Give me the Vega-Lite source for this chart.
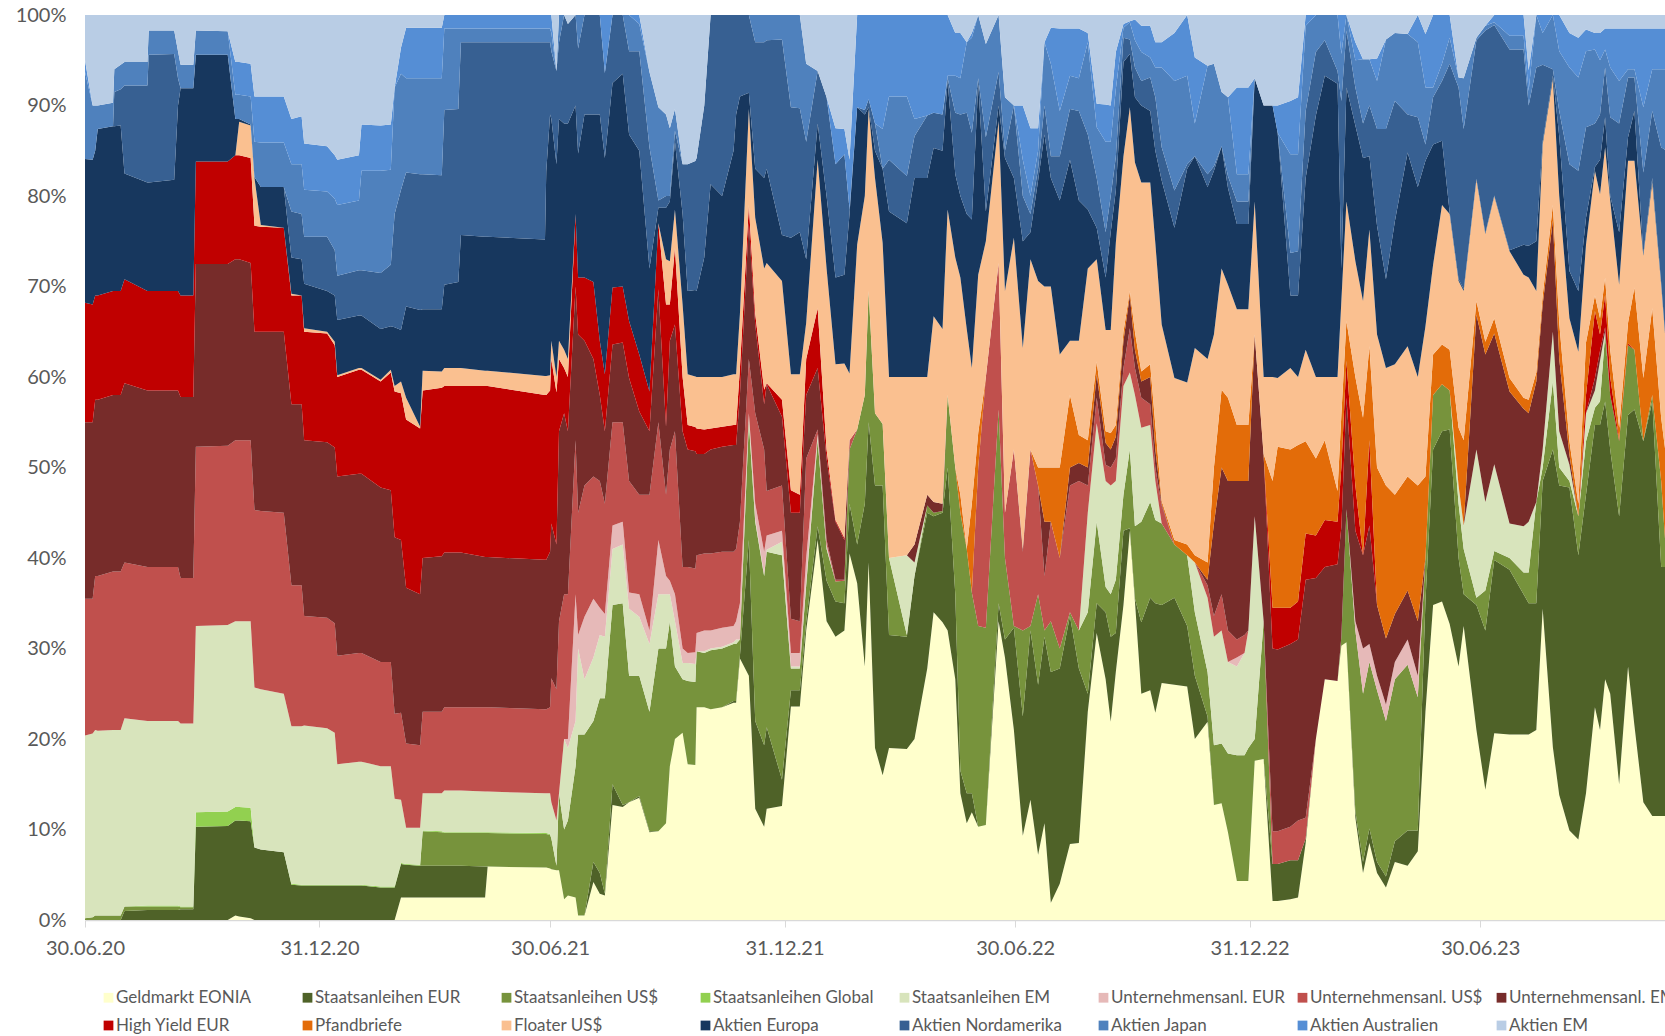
{"$schema":"https://vega.github.io/schema/vega-lite/v6.json","width":1580,"height":905,"autosize":{"type":"none"},"padding":{"left":85,"top":15,"right":0,"bottom":116},"background":"white","config":{"view":{"stroke":null},"font":"Lato"},
"data":{"values":[
{"date":"2020-06-30","a":0,"b":0,"c":0.2,"d":0,"e":20.2,"f":0,"g":15.1,"h":19.5,"i":13.2,"j":0,"k":0,"l":15.9,"m":0,"n":9.6,"o":1.3,"p":5},
{"date":"2020-07-06","a":0,"b":0,"c":0.3,"d":0,"e":20.3,"f":0,"g":14.9,"h":19.5,"i":13,"j":0,"k":0,"l":16,"m":0,"n":6,"o":0,"p":10},
{"date":"2020-07-08","a":0,"b":0,"c":0.5,"d":0,"e":20.5,"f":0,"g":17,"h":19.5,"i":11.5,"j":0,"k":0,"l":16,"m":0,"n":5,"o":0,"p":10},
{"date":"2020-07-10","a":0,"b":0,"c":0.5,"d":0,"e":20.4,"f":0,"g":17.1,"h":19.5,"i":11.5,"j":0,"k":0,"l":18.4,"m":0,"n":2.6,"o":0,"p":10},
{"date":"2020-07-22","a":0,"b":0,"c":0.5,"d":0,"e":20.5,"f":0,"g":17.5,"h":19.5,"i":11.5,"j":0,"k":0,"l":18.2,"m":0,"n":2.6,"o":0,"p":9.7},
{"date":"2020-07-23","a":0,"b":0,"c":0.5,"d":0,"e":20.5,"f":0,"g":17.5,"h":19.5,"i":11.5,"j":0,"k":0,"l":18.2,"m":3.8,"n":2.5,"o":0,"p":6},
{"date":"2020-07-28","a":0,"b":0,"c":0.5,"d":0,"e":20.5,"f":0,"g":17.5,"h":19.5,"i":11.5,"j":0,"k":0,"l":18.3,"m":4,"n":2.7,"o":0,"p":5.5},
{"date":"2020-07-31","a":0,"b":1,"c":0.5,"d":0,"e":20.8,"f":0,"g":17.2,"h":19.8,"i":11.5,"j":0,"k":0,"l":11.7,"m":9.7,"n":2.6,"o":0,"p":5.2},
{"date":"2020-08-18","a":0,"b":1.1,"c":0.4,"d":0.1,"e":20.4,"f":0,"g":17,"h":19.5,"i":11,"j":0,"k":0,"l":12,"m":10.7,"n":2.6,"o":0,"p":5.2},
{"date":"2020-08-19","a":0,"b":1.1,"c":0.4,"d":0.1,"e":20.4,"f":0,"g":17,"h":19.5,"i":11,"j":0,"k":0,"l":12,"m":14.1,"n":2.7,"o":0,"p":1.7},
{"date":"2020-09-08","a":0,"b":1.1,"c":0.4,"d":0.1,"e":20.4,"f":0,"g":17,"h":19.5,"i":11,"j":0,"k":0,"l":12.3,"m":13.9,"n":2.6,"o":0,"p":1.7},
{"date":"2020-09-11","a":0,"b":1.1,"c":0.4,"d":0.1,"e":20.4,"f":0,"g":17,"h":19.5,"i":11,"j":0,"k":0,"l":20.5,"m":3,"n":3,"o":0,"p":4},
{"date":"2020-09-13","a":0,"b":1.2,"c":0.2,"d":0.1,"e":20.2,"f":0,"g":16.1,"h":20,"i":11.2,"j":0,"k":0,"l":22.9,"m":0,"n":2.6,"o":0,"p":5.5},
{"date":"2020-09-23","a":0,"b":1.2,"c":0.2,"d":0.1,"e":20.2,"f":0,"g":16.1,"h":20,"i":11.2,"j":0,"k":0,"l":22.9,"m":0,"n":2.6,"o":0,"p":5.5},
{"date":"2020-09-25","a":0,"b":10.3,"c":0,"d":1.6,"e":20.6,"f":0,"g":19.8,"h":20.2,"i":11.3,"j":0,"k":0,"l":11.8,"m":0,"n":2.7,"o":0,"p":1.7},
{"date":"2020-10-20","a":0,"b":10.4,"c":0,"d":1.6,"e":20.6,"f":0,"g":19.8,"h":20.1,"i":11.3,"j":0,"k":0,"l":11.8,"m":0,"n":2.6,"o":0,"p":1.8},
{"date":"2020-10-26","a":0.5,"b":10.5,"c":0,"d":1.5,"e":20.5,"f":0,"g":20,"h":20,"i":11.5,"j":0,"k":0,"l":4,"m":0,"n":2.7,"o":3.6,"p":5.2},
{"date":"2020-10-29","a":0.4,"b":10.6,"c":0,"d":1.5,"e":20.5,"f":0,"g":20,"h":20,"i":11.5,"j":0,"k":3.7,"l":0.3,"m":0,"n":2.7,"o":3.6,"p":5.2},
{"date":"2020-11-07","a":0.2,"b":10.7,"c":0,"d":1.5,"e":20.6,"f":0,"g":20,"h":19.6,"i":11.6,"j":0,"k":3.6,"l":0.1,"m":0,"n":3.1,"o":3.6,"p":5.4},
{"date":"2020-11-10","a":0,"b":8,"c":0,"d":0,"e":17.7,"f":0,"g":19.6,"h":19.7,"i":11.7,"j":0,"k":5.3,"l":0.1,"m":0,"n":3.9,"o":5,"p":9},
{"date":"2020-11-15","a":0,"b":7.8,"c":0,"d":0,"e":17.7,"f":0,"g":19.7,"h":19.8,"i":11.6,"j":0,"k":0.2,"l":4.2,"m":0,"n":4.9,"o":5.1,"p":9},
{"date":"2020-12-03","a":0,"b":7.5,"c":0,"d":0,"e":17.5,"f":0,"g":20,"h":20,"i":11.5,"j":0,"k":0,"l":4.5,"m":0,"n":4.9,"o":5.1,"p":9},
{"date":"2020-12-09","a":0,"b":3.9,"c":0,"d":0.1,"e":17.4,"f":0,"g":15.6,"h":20,"i":12,"j":0,"k":0.2,"l":4,"m":5.1,"n":5.2,"o":5,"p":11.5},
{"date":"2020-12-17","a":0,"b":3.8,"c":0,"d":0.1,"e":17.5,"f":0,"g":15.6,"h":20,"i":12,"j":0,"k":0,"l":4,"m":5,"n":5.5,"o":5.3,"p":11.2},
{"date":"2020-12-19","a":0,"b":3.8,"c":0,"d":0.1,"e":17.6,"f":0,"g":12.1,"h":19.4,"i":12,"j":0,"k":0.4,"l":4.9,"m":5.2,"n":5.2,"o":5.1,"p":14.2},
{"date":"2021-01-06","a":0,"b":3.8,"c":0,"d":0.1,"e":17.3,"f":0,"g":12.2,"h":19.4,"i":12,"j":0,"k":0.2,"l":4.5,"m":6,"n":5,"o":5,"p":14.5},
{"date":"2021-01-12","a":0,"b":3.8,"c":0,"d":0.1,"e":16.8,"f":0,"g":12.1,"h":19.4,"i":11.3,"j":0,"k":0.4,"l":5.1,"m":5,"n":5.7,"o":4.8,"p":15.5},
{"date":"2021-01-14","a":0,"b":3.8,"c":0,"d":0.1,"e":13.3,"f":0,"g":12,"h":19.8,"i":11,"j":0,"k":0.2,"l":6.1,"m":4.9,"n":7.8,"o":5,"p":16},
{"date":"2021-01-31","a":0,"b":3.8,"c":0,"d":0.1,"e":13.6,"f":0,"g":12,"h":19.8,"i":11.5,"j":0,"k":0.2,"l":5.8,"m":5,"n":7.7,"o":5,"p":15.5},
{"date":"2021-02-02","a":0,"b":3.8,"c":0,"d":0.1,"e":13.6,"f":0,"g":12,"h":19.8,"i":11.5,"j":0,"k":0.2,"l":5.8,"m":5,"n":11,"o":5.1,"p":12.1},
{"date":"2021-02-17","a":0,"b":3.6,"c":0,"d":0.1,"e":13.3,"f":0,"g":11.5,"h":19.3,"i":11.7,"j":0,"k":0.2,"l":5.6,"m":6.2,"n":11.3,"o":5,"p":12.2},
{"date":"2021-02-25","a":0,"b":3.6,"c":0,"d":0.1,"e":13.3,"f":0,"g":11.5,"h":19,"i":13,"j":0,"k":0.3,"l":4.8,"m":6.8,"n":10.5,"o":5,"p":12.1},
{"date":"2021-02-28","a":0,"b":3.6,"c":0,"d":0.1,"e":9.7,"f":0,"g":9.4,"h":19.5,"i":16.1,"j":0,"k":0.6,"l":6.5,"m":12.5,"n":14,"o":0,"p":8},
{"date":"2021-03-05","a":2.5,"b":3.7,"c":0,"d":0.1,"e":7,"f":0,"g":9.6,"h":19.1,"i":16.2,"j":0,"k":1.3,"l":5.7,"m":15.5,"n":12.8,"o":2.9,"p":3.6},
{"date":"2021-03-09","a":2.5,"b":3.6,"c":0,"d":0.1,"e":4,"f":0,"g":9.3,"h":17.2,"i":18.6,"j":0,"k":2.4,"l":10.1,"m":14.8,"n":10.4,"o":5.6,"p":1.4},
{"date":"2021-03-20","a":2.5,"b":3.5,"c":0,"d":0.1,"e":4.1,"f":0,"g":9.1,"h":16.7,"i":18.3,"j":0,"k":0.2,"l":12.9,"m":15,"n":10.6,"o":5.6,"p":1.4},
{"date":"2021-03-22","a":2.5,"b":3.5,"c":3.8,"d":0.1,"e":4.1,"f":0,"g":9,"h":17,"i":18.5,"j":0,"k":2.2,"l":6.8,"m":14.9,"n":10.6,"o":5.6,"p":1.4},
{"date":"2021-04-06","a":2.5,"b":3.5,"c":3.7,"d":0.1,"e":4.2,"f":0,"g":9,"h":17.2,"i":18.6,"j":0,"k":1.8,"l":6.9,"m":14.8,"n":10.7,"o":5.6,"p":1.4},
{"date":"2021-04-08","a":2.5,"b":3.5,"c":3.6,"d":0.1,"e":4.6,"f":0,"g":9.2,"h":17.1,"i":18.4,"j":0,"k":2,"l":9.2,"m":19.3,"n":9,"o":1.5,"p":0},
{"date":"2021-04-19","a":2.5,"b":3.5,"c":3.6,"d":0.1,"e":4.6,"f":0,"g":9.2,"h":17.1,"i":18.4,"j":0,"k":2,"l":9.5,"m":19.1,"n":8.9,"o":1.5,"p":0},
{"date":"2021-04-21","a":2.5,"b":3.5,"c":3.6,"d":0.1,"e":4.6,"f":0,"g":9.2,"h":17.1,"i":18.4,"j":0,"k":2,"l":14.7,"m":21.3,"n":1.5,"o":1.5,"p":0},
{"date":"2021-05-10","a":2.5,"b":3.4,"c":3.7,"d":0.1,"e":4.5,"f":0,"g":9.3,"h":16.6,"i":18.9,"j":0,"k":1.7,"l":14.8,"m":21.5,"n":1.5,"o":1.5,"p":0},
{"date":"2021-05-12","a":5.9,"b":0,"c":3.7,"d":0.1,"e":4.5,"f":0,"g":9.3,"h":16.6,"i":18.9,"j":0,"k":1.7,"l":14.8,"m":21.5,"n":1.5,"o":1.5,"p":0},
{"date":"2021-06-26","a":5.8,"b":0,"c":3.7,"d":0.1,"e":4.4,"f":0,"g":9.3,"h":16.5,"i":18.2,"j":0,"k":2.1,"l":15.1,"m":21.8,"n":1.5,"o":1.5,"p":0},
{"date":"2021-06-27","a":5.8,"b":0,"c":3.7,"d":0.1,"e":4.4,"f":0,"g":9.3,"h":16.5,"i":18.2,"j":0,"k":2.1,"l":22.6,"m":14.3,"n":1.5,"o":1.5,"p":0},
{"date":"2021-06-30","a":5.7,"b":0,"c":3.7,"d":0.1,"e":4.5,"f":0,"g":9.5,"h":17.2,"i":17.8,"j":0,"k":1.7,"l":28.8,"m":8,"n":1.5,"o":1.5,"p":0},
{"date":"2021-07-01","a":5.6,"b":0,"c":3.4,"d":0,"e":4,"f":0,"g":13.7,"h":17.1,"i":18.2,"j":0,"k":2,"l":24.5,"m":7.5,"n":2,"o":2,"p":0},
{"date":"2021-07-05","a":5.5,"b":0,"c":0.5,"d":0,"e":5,"f":0,"g":14.5,"h":16,"i":16.8,"j":0,"k":1.7,"l":23.5,"m":10.3,"n":0,"o":0,"p":6.2},
{"date":"2021-07-07","a":5.5,"b":0,"c":8.5,"d":0,"e":0,"f":0,"g":19,"h":21,"i":8,"j":0,"k":2,"l":24.5,"m":8.5,"n":3,"o":0,"p":0},
{"date":"2021-07-11","a":2.3,"b":0,"c":7.7,"d":0,"e":10,"f":0,"g":16,"h":20,"i":5,"j":0,"k":2,"l":25,"m":12,"n":0,"o":0,"p":0},
{"date":"2021-07-14","a":2.7,"b":0,"c":8.3,"d":0,"e":8,"f":1,"g":16,"h":18,"i":6,"j":0,"k":2,"l":26,"m":11,"n":0,"o":0,"p":1},
{"date":"2021-07-20","a":2.5,"b":0,"c":14.5,"d":0,"e":5,"f":14,"g":17,"h":17,"i":8,"j":0,"k":0,"l":12,"m":10,"n":0,"o":0,"p":0},
{"date":"2021-07-22","a":0.5,"b":0,"c":20,"d":0,"e":9.5,"f":1.5,"g":13.5,"h":19.7,"i":6.3,"j":0,"k":0,"l":13.7,"m":11.6,"n":3.7,"o":0,"p":0},
{"date":"2021-07-27","a":0.5,"b":0,"c":20,"d":0,"e":6.1,"f":6.9,"g":14.5,"h":16,"i":7,"j":0,"k":0,"l":18,"m":11,"n":0,"o":0,"p":0},
{"date":"2021-08-03","a":4.2,"b":2.2,"c":15.6,"d":0,"e":7,"f":6.5,"g":13.5,"h":13,"i":8.5,"j":0,"k":0,"l":18.5,"m":11,"n":0,"o":0,"p":0},
{"date":"2021-08-08","a":2.9,"b":2.3,"c":19.3,"d":0,"e":7,"f":3,"g":14,"h":9.5,"i":6,"j":0,"k":0,"l":25,"m":11,"n":0,"o":0,"p":0},
{"date":"2021-08-12","a":2.7,"b":0.2,"c":21.6,"d":0,"e":6.8,"f":2.5,"g":12.2,"h":8,"i":6.3,"j":0,"k":0,"l":23.9,"m":9.4,"n":0,"o":6.4,"p":0},
{"date":"2021-08-18","a":12.7,"b":2.3,"c":19.8,"d":0,"e":6.2,"f":2.6,"g":11.4,"h":8.6,"i":6.3,"j":0,"k":0,"l":22.6,"m":7.5,"n":0,"o":0,"p":0},
{"date":"2021-08-26","a":12.5,"b":0.2,"c":22.3,"d":0,"e":6.5,"f":2.5,"g":11,"h":8.8,"i":6.2,"j":0,"k":0,"l":23.5,"m":6.5,"n":0,"o":0,"p":0},
{"date":"2021-08-31","a":13,"b":0,"c":14,"d":0,"e":7.4,"f":1.8,"g":12.3,"h":11.4,"i":6.3,"j":0,"k":0,"l":20.6,"m":9.2,"n":4,"o":0,"p":0},
{"date":"2021-09-08","a":13.5,"b":0.2,"c":13.3,"d":0,"e":6.5,"f":2.5,"g":11,"h":9.2,"i":6.3,"j":0,"k":0,"l":22.5,"m":11,"n":3,"o":1,"p":0},
{"date":"2021-09-16","a":9.7,"b":0.1,"c":13.2,"d":0,"e":7.5,"f":1.5,"g":15,"h":7,"i":4.4,"j":0,"k":0,"l":13.6,"m":13.4,"n":8.3,"o":0,"p":6.3},
{"date":"2021-09-23","a":9.8,"b":0,"c":20.2,"d":0,"e":6,"f":6,"g":13,"h":14.7,"i":7.3,"j":0,"k":0,"l":1.7,"m":0.8,"n":10.3,"o":0,"p":10.2},
{"date":"2021-09-29","a":10.7,"b":0,"c":19.3,"d":0,"e":6,"f":2,"g":9,"h":7.5,"i":13.5,"j":0,"k":5,"l":5.7,"m":1.3,"n":9,"o":0,"p":11},
{"date":"2021-10-02","a":17,"b":0,"c":16,"d":0,"e":3,"f":1.5,"g":14.5,"h":12,"i":4,"j":0,"k":4.8,"l":6.6,"m":0.6,"n":7.5,"o":0,"p":12.5},
{"date":"2021-10-06","a":20,"b":0,"c":8,"d":0,"e":5,"f":3,"g":18,"h":11.8,"i":8.5,"j":0,"k":4.2,"l":7.5,"m":1.2,"n":2.4,"o":0,"p":10.4},
{"date":"2021-10-12","a":20.7,"b":0,"c":5.9,"d":0,"e":1.8,"f":1.6,"g":9,"h":15,"i":6,"j":0,"k":8,"l":10,"m":5.5,"n":0,"o":0,"p":16.5},
{"date":"2021-10-16","a":17.2,"b":0,"c":9.2,"d":0,"e":2,"f":1.1,"g":9.5,"h":13,"i":2.7,"j":0,"k":5.6,"l":9.2,"m":14,"n":0,"o":0,"p":16.5},
{"date":"2021-10-22","a":17.2,"b":0,"c":9.2,"d":0,"e":2,"f":1.3,"g":9.3,"h":13,"i":2.7,"j":0,"k":5.6,"l":9.6,"m":14.3,"n":0,"o":0,"p":16.2},
{"date":"2021-10-23","a":23.5,"b":0,"c":6.2,"d":0,"e":0,"f":2,"g":8.6,"h":11.2,"i":2.8,"j":0,"k":5.7,"l":9.5,"m":14.7,"n":0,"o":0,"p":15.8},
{"date":"2021-10-29","a":23.5,"b":0,"c":6,"d":0,"e":0.2,"f":2.3,"g":8.5,"h":11,"i":2.7,"j":0,"k":5.8,"l":13.2,"m":16.8,"n":0,"o":0,"p":10},
{"date":"2021-11-03","a":23.3,"b":0,"c":6.5,"d":0,"e":0.2,"f":2,"g":8.5,"h":11.5,"i":2.3,"j":0,"k":5.7,"l":21.3,"m":18.7,"n":0,"o":0,"p":0},
{"date":"2021-11-12","a":23.5,"b":0,"c":6.5,"d":0,"e":0.2,"f":2.1,"g":8.4,"h":11.6,"i":2.2,"j":0,"k":5.5,"l":20,"m":20,"n":0,"o":0,"p":0},
{"date":"2021-11-21","a":24,"b":0.2,"c":6.3,"d":0,"e":0.2,"f":1.8,"g":8.2,"h":11.8,"i":2.2,"j":0,"k":5.6,"l":24.7,"m":15,"n":0,"o":0,"p":0},
{"date":"2021-11-23","a":24,"b":0.2,"c":6.3,"d":0,"e":0.5,"f":2,"g":8,"h":11.5,"i":2.2,"j":0,"k":5.6,"l":28.7,"m":11,"n":0,"o":0,"p":0},
{"date":"2021-11-26","a":28.9,"b":0.3,"c":1.8,"d":0,"e":0,"f":4,"g":9,"h":14,"i":3,"j":0,"k":6,"l":24,"m":9,"n":0,"o":0,"p":0},
{"date":"2021-12-03","a":27,"b":15,"c":13,"d":0,"e":1,"f":0,"g":6,"h":15,"i":2,"j":0,"k":10.6,"l":1.8,"m":8.6,"n":0,"o":0,"p":0},
{"date":"2021-12-08","a":12.3,"b":9.7,"c":22,"d":0,"e":0.3,"f":1.7,"g":10,"h":9.8,"i":1.2,"j":0,"k":10.6,"l":5.4,"m":14,"n":3,"o":0,"p":0},
{"date":"2021-12-15","a":10.3,"b":9,"c":18.7,"d":0,"e":0.2,"f":2.5,"g":11.3,"h":5,"i":1.6,"j":0,"k":13.4,"l":10,"m":15,"n":3,"o":0,"p":0},
{"date":"2021-12-17","a":12.3,"b":9,"c":19.4,"d":0,"e":0.2,"f":1.6,"g":4.9,"h":11.8,"i":0.1,"j":0,"k":13.3,"l":10.4,"m":14.2,"n":2.8,"o":0,"p":0},
{"date":"2021-12-29","a":12.6,"b":2.9,"c":24.8,"d":0,"e":1.5,"f":1.2,"g":5,"h":7.6,"i":1.9,"j":0,"k":13.1,"l":5.1,"m":21.6,"n":2.7,"o":0,"p":0},
{"date":"2022-01-05","a":23.6,"b":1.8,"c":2.4,"d":0,"e":0.2,"f":1.5,"g":3.8,"h":11.7,"i":2.5,"j":0,"k":12.8,"l":15.1,"m":14.4,"n":10.2,"o":0,"p":0},
{"date":"2022-01-12","a":23.6,"b":1.8,"c":2.4,"d":0,"e":0.2,"f":1.5,"g":3.5,"h":12,"i":2,"j":0,"k":13.3,"l":15.7,"m":13.7,"n":10.3,"o":0,"p":0},
{"date":"2022-01-17","a":32,"b":1,"c":4,"d":0,"e":0.5,"f":2.5,"g":11,"h":7,"i":4,"j":0,"k":4,"l":7,"m":13,"n":8.6,"o":0,"p":5.4},
{"date":"2022-01-26","a":42,"b":1.5,"c":9.5,"d":0,"e":0.5,"f":0.2,"g":0.5,"h":6.8,"i":6.6,"j":0,"k":16.4,"l":4,"m":5.8,"n":0,"o":0,"p":6.2},
{"date":"2022-02-02","a":33,"b":4.5,"c":3.5,"d":0,"e":0.2,"f":0.3,"g":0.5,"h":9,"i":1,"j":0,"k":20,"l":8,"m":10.9,"n":0,"o":0,"p":9.1},
{"date":"2022-02-09","a":31.3,"b":3.9,"c":2.2,"d":0,"e":0,"f":0,"g":0.2,"h":6.4,"i":0.2,"j":0,"k":17.2,"l":9.6,"m":12.5,"n":0,"o":4,"p":12.5},
{"date":"2022-02-16","a":32,"b":3,"c":2.5,"d":0,"e":0,"f":0,"g":0.1,"h":4.4,"i":0.2,"j":0,"k":19.3,"l":9.8,"m":13.3,"n":0,"o":2.8,"p":12.6},
{"date":"2022-02-20","a":40.5,"b":5.5,"c":6,"d":0,"e":0,"f":0,"g":1,"h":0,"i":0,"j":0,"k":7.4,"l":17.6,"m":0.5,"n":0,"o":5.5,"p":16},
{"date":"2022-02-26","a":37.2,"b":4.3,"c":12.7,"d":0,"e":0,"f":0,"g":0,"h":0,"i":0,"j":0,"k":20.4,"l":15.2,"m":0,"n":0,"o":10.2,"p":0},
{"date":"2022-03-04","a":28,"b":18,"c":12,"d":0,"e":0,"f":0,"g":0,"h":0,"i":0,"j":0,"k":22,"l":9,"m":0.5,"n":0,"o":10.5,"p":0},
{"date":"2022-03-07","a":39.5,"b":15.5,"c":14.5,"d":0,"e":0,"f":0,"g":0,"h":0,"i":0,"j":0,"k":20.1,"l":0.2,"m":0.9,"n":0,"o":9.3,"p":0},
{"date":"2022-03-12","a":19,"b":29,"c":8,"d":0,"e":0,"f":0,"g":0,"h":0,"i":0,"j":0,"k":26,"l":3,"m":3,"n":0,"o":12,"p":0},
{"date":"2022-03-18","a":16,"b":32,"c":6.8,"d":0,"e":0,"f":0,"g":0,"h":0,"i":0,"j":0,"k":20,"l":8.2,"m":0,"n":4.4,"o":12.6,"p":0},
{"date":"2022-03-23","a":19,"b":12.5,"c":8.5,"d":0,"e":0,"f":0,"g":0,"h":0,"i":0,"j":0,"k":20,"l":18.3,"m":5.7,"n":7,"o":9,"p":0},
{"date":"2022-04-06","a":18.9,"b":12.4,"c":0.2,"d":0,"e":8.8,"f":0,"g":0,"h":0,"i":0,"j":0,"k":19.7,"l":17,"m":5.2,"n":8.8,"o":9,"p":0},
{"date":"2022-04-12","a":20,"b":18,"c":0,"d":0,"e":1.5,"f":0,"g":0,"h":2,"i":0,"j":0,"k":18.5,"l":22,"m":4.6,"n":1.9,"o":11.5,"p":0},
{"date":"2022-04-22","a":27.8,"b":17.2,"c":0.8,"d":0,"e":0,"f":0,"g":0,"h":1.2,"i":0,"j":0,"k":13,"l":22,"m":6.9,"n":0,"o":11.1,"p":0},
{"date":"2022-04-27","a":34,"b":10.6,"c":0.4,"d":0,"e":0,"f":0,"g":0,"h":1.2,"i":0,"j":0,"k":20.5,"l":18.6,"m":3.9,"n":0,"o":10.8,"p":0},
{"date":"2022-05-04","a":32.9,"b":12.1,"c":0.2,"d":0,"e":0,"f":0,"g":0,"h":0.8,"i":0,"j":0,"k":19.3,"l":19.7,"m":4,"n":0,"o":11,"p":0},
{"date":"2022-05-08","a":32,"b":18,"c":8,"d":0,"e":0,"f":0,"g":0,"h":0,"i":0,"j":0,"k":20.5,"l":14.2,"m":0.3,"n":0.3,"o":6.7,"p":0},
{"date":"2022-05-14","a":26.6,"b":9.4,"c":14,"d":0,"e":0,"f":0,"g":0,"h":0,"i":0,"j":0,"k":23.2,"l":9.2,"m":6.8,"n":4.1,"o":4.7,"p":2},
{"date":"2022-05-18","a":14,"b":2.5,"c":28.5,"d":0,"e":0,"f":0,"g":0,"h":0,"i":0,"j":2,"k":24,"l":9,"m":9,"n":4,"o":5,"p":2},
{"date":"2022-05-23","a":10.7,"b":3.3,"c":27,"d":0,"e":0,"f":0,"g":0,"h":0,"i":0,"j":0,"k":24.3,"l":12.7,"m":11.2,"n":7.8,"o":0,"p":3},
{"date":"2022-05-27","a":11.9,"b":2.1,"c":22.2,"d":0,"e":0,"f":0,"g":0,"h":0,"i":0,"j":9.8,"k":15,"l":16.4,"m":9.6,"n":10.5,"o":0.5,"p":2},
{"date":"2022-06-01","a":10.3,"b":0,"c":22.2,"d":0,"e":0,"f":0,"g":17.5,"h":0,"i":0,"j":3.8,"k":17.5,"l":21.1,"m":0.6,"n":7,"o":0,"p":0},
{"date":"2022-06-07","a":10.5,"b":0,"c":21.8,"d":0,"e":0,"f":0,"g":27.7,"h":0,"i":0,"j":0,"k":15,"l":3.3,"m":8.2,"n":10.3,"o":0,"p":3.2},
{"date":"2022-06-17","a":33,"b":2,"c":21.4,"d":0,"e":0,"f":0,"g":16.2,"h":0,"i":0,"j":0,"k":15.7,"l":1.7,"m":3.7,"n":6.3,"o":0,"p":0},
{"date":"2022-06-22","a":29,"b":2,"c":9,"d":0,"e":0,"f":0,"g":5,"h":0,"i":0,"j":0,"k":24.5,"l":14.7,"m":0.8,"n":5.9,"o":0,"p":9.1},
{"date":"2022-06-29","a":21,"b":11.3,"c":0.2,"d":0,"e":0,"f":0,"g":19.5,"h":0,"i":0,"j":0,"k":23.4,"l":6.6,"m":8,"n":0,"o":0,"p":10},
{"date":"2022-07-06","a":9.3,"b":13.2,"c":9.5,"d":0,"e":0,"f":0,"g":8.7,"h":0.3,"i":0,"j":0,"k":22.2,"l":11.8,"m":5,"n":4,"o":6,"p":10},
{"date":"2022-07-12","a":13.3,"b":18.7,"c":0.5,"d":0,"e":0,"f":0,"g":19.5,"h":0,"i":0,"j":0,"k":21,"l":3,"m":2,"n":2,"o":7.5,"p":12.5},
{"date":"2022-07-18","a":7.2,"b":18.8,"c":10,"d":0,"e":0,"f":0,"g":12,"h":0,"i":0,"j":2,"k":20.6,"l":11.1,"m":1.3,"n":2,"o":2.5,"p":12.5},
{"date":"2022-07-23","a":10.7,"b":20.6,"c":0.7,"d":0,"e":0,"f":0,"g":6,"h":6,"i":0,"j":6,"k":20,"l":16.8,"m":3.2,"n":7,"o":0,"p":3},
{"date":"2022-07-28","a":1.9,"b":25.5,"c":5.6,"d":0,"e":0,"f":0,"g":11,"h":0,"i":0,"j":6,"k":20,"l":12,"m":2.4,"n":10.2,"o":4,"p":1.4},
{"date":"2022-08-04","a":4,"b":23.8,"c":2.2,"d":0,"e":0,"f":0,"g":10,"h":0,"i":0,"j":10,"k":12.5,"l":17,"m":4.9,"n":5,"o":9.1,"p":1.5},
{"date":"2022-08-12","a":8.4,"b":25.2,"c":0.4,"d":0,"e":0,"f":0,"g":14,"h":2,"i":0,"j":8,"k":6,"l":20,"m":5.6,"n":3.7,"o":5.2,"p":1.5},
{"date":"2022-08-19","a":8.5,"b":19.3,"c":4.2,"d":0,"e":0,"f":0,"g":16.5,"h":2,"i":0,"j":3.1,"k":10.4,"l":15.5,"m":9.9,"n":3.6,"o":5.5,"p":1.5},
{"date":"2022-08-26","a":23,"b":2,"c":9,"d":0,"e":11,"f":0,"g":3,"h":2,"i":0,"j":3,"k":19,"l":6.5,"m":8.3,"n":10.2,"o":1,"p":2},
{"date":"2022-09-02","a":31.7,"b":3.3,"c":9,"d":0,"e":10.9,"f":0,"g":2.8,"h":2.6,"i":0,"j":1.4,"k":11.3,"l":3.5,"m":5.5,"n":5.6,"o":2.6,"p":9.8},
{"date":"2022-09-09","a":26.6,"b":7.4,"c":2.8,"d":0,"e":11.7,"f":0,"g":1.8,"h":2.4,"i":0,"j":1.3,"k":11.2,"l":5.8,"m":5,"n":10,"o":4.1,"p":9.9},
{"date":"2022-09-13","a":21.9,"b":9.4,"c":4.7,"d":0,"e":12,"f":0,"g":2,"h":2,"i":0,"j":1.8,"k":11.4,"l":10.8,"m":4,"n":6,"o":4,"p":10},
{"date":"2022-09-17","a":27.4,"b":4.3,"c":5.9,"d":0,"e":10.9,"f":0,"g":2.5,"h":2.4,"i":0,"j":1.3,"k":20.1,"l":5.8,"m":3.7,"n":7.5,"o":4.1,"p":4.1},
{"date":"2022-09-23","a":34.8,"b":8.2,"c":4,"d":0,"e":12,"f":0,"g":2,"h":3,"i":0,"j":1,"k":19.4,"l":10.4,"m":2.7,"n":1.1,"o":0.4,"p":1},
{"date":"2022-09-28","a":43,"b":0.3,"c":8.7,"d":0,"e":8.5,"f":0,"g":4.9,"h":3.6,"i":0,"j":0.5,"k":20.3,"l":5.9,"m":1.6,"n":1.9,"o":0.1,"p":0.7},
{"date":"2022-10-02","a":35.2,"b":0.3,"c":8,"d":0,"e":14.5,"f":0,"g":3,"h":2,"i":0,"j":2,"k":18.7,"l":7.2,"m":3.3,"n":3,"o":2.3,"p":0.5},
{"date":"2022-10-07","a":25,"b":7.9,"c":11.1,"d":0,"e":10.4,"f":0,"g":3.3,"h":1.8,"i":0,"j":1.1,"k":20.9,"l":8.5,"m":2.7,"n":3.2,"o":2.9,"p":1.2},
{"date":"2022-10-14","a":25.4,"b":10.2,"c":10.6,"d":0,"e":8.5,"f":0,"g":2.3,"h":3,"i":0,"j":1.4,"k":20.1,"l":7.9,"m":3.7,"n":2.2,"o":3.5,"p":1.2},
{"date":"2022-10-18","a":22.9,"b":12.1,"c":9.2,"d":0,"e":4.3,"f":0,"g":1.5,"h":2,"i":0,"j":2.7,"k":20.1,"l":10.2,"m":5.9,"n":3.3,"o":2.8,"p":3},
{"date":"2022-10-23","a":26.2,"b":8.6,"c":9,"d":0,"e":0,"f":0,"g":2,"h":0.2,"i":0,"j":0.3,"k":19.5,"l":15.9,"m":3.7,"n":8.8,"o":2.8,"p":3},
{"date":"2022-11-02","a":26,"b":9.6,"c":5.9,"d":0,"e":0,"f":0,"g":0,"h":0,"i":0,"j":0.5,"k":17.9,"l":16.6,"m":4.1,"n":12.1,"o":5.3,"p":2},
{"date":"2022-11-12","a":25.8,"b":6.7,"c":7.8,"d":0,"e":0,"f":0,"g":0,"h":0,"i":0,"j":1.2,"k":17.9,"l":23.6,"m":0.5,"n":9.8,"o":6.7,"p":0},
{"date":"2022-11-18","a":20,"b":7,"c":7,"d":0,"e":5.5,"f":0,"g":0,"h":0,"i":0,"j":0.8,"k":22.9,"l":21.2,"m":0,"n":3.6,"o":7.3,"p":4.7},
{"date":"2022-11-28","a":21.9,"b":0.6,"c":4.9,"d":0,"e":8.2,"f":0,"g":1.4,"h":0.6,"i":0,"j":1.9,"k":22.5,"l":19,"m":1.4,"n":12,"o":0,"p":5.6},
{"date":"2022-12-03","a":12.7,"b":0,"c":6.6,"d":0,"e":12,"f":0,"g":2.3,"h":10.2,"i":0,"j":6.2,"k":14.7,"l":18.1,"m":0.5,"n":11.3,"o":0,"p":5.4},
{"date":"2022-12-09","a":12.9,"b":0,"c":6.6,"d":0,"e":12.5,"f":0,"g":4,"h":14,"i":0,"j":8.6,"k":13.4,"l":13.5,"m":0,"n":6,"o":0,"p":8.5},
{"date":"2022-12-14","a":9.7,"b":0,"c":8.7,"d":0,"e":10.1,"f":0,"g":3.5,"h":16.5,"i":0,"j":9.2,"k":12.5,"l":10.7,"m":1.3,"n":8.7,"o":0,"p":9.1},
{"date":"2022-12-21","a":4.3,"b":0,"c":13.9,"d":0,"e":9.8,"f":1,"g":2,"h":17.5,"i":0,"j":6.2,"k":12.8,"l":9.4,"m":2.5,"n":3,"o":9.6,"p":8},
{"date":"2022-12-27","a":4.3,"b":0,"c":13.9,"d":0,"e":11.3,"f":0,"g":2,"h":17,"i":0,"j":6.2,"k":12.8,"l":9.4,"m":2.5,"n":3,"o":9.6,"p":8},
{"date":"2022-12-30","a":4.3,"b":0,"c":14.7,"d":0,"e":13,"f":0,"g":0,"h":16.5,"i":0,"j":6.2,"k":12.8,"l":9.4,"m":2.5,"n":3,"o":9.6,"p":8},
{"date":"2023-01-04","a":17.6,"b":0,"c":2.4,"d":0,"e":24.6,"f":0,"g":0,"h":20.1,"i":0,"j":0,"k":14.7,"l":13.6,"m":0,"n":0,"o":0,"p":7},
{"date":"2023-01-11","a":17.8,"b":0,"c":15.2,"d":0,"e":0,"f":0,"g":0,"h":18.3,"i":0,"j":0.2,"k":8.5,"l":30,"m":0,"n":0,"o":0,"p":10},
{"date":"2023-01-18","a":2.1,"b":4.1,"c":0,"d":0,"e":0,"f":0,"g":3.6,"h":20.2,"i":4.5,"j":14,"k":11.5,"l":30,"m":0,"n":0,"o":0,"p":10},
{"date":"2023-01-22","a":2.1,"b":4.1,"c":0,"d":0,"e":0,"f":0,"g":3.6,"h":20.1,"i":4.6,"j":17.8,"k":7.6,"l":27.1,"m":0,"n":0,"o":3,"p":10},
{"date":"2023-02-01","a":2.3,"b":4.3,"c":0,"d":0,"e":0,"f":0,"g":3.7,"h":20.2,"i":4,"j":17.5,"k":9,"l":8,"m":4.7,"n":10.9,"o":5.9,"p":9.5},
{"date":"2023-02-07","a":2.5,"b":4.1,"c":0,"d":0,"e":0,"f":0,"g":4.4,"h":20,"i":4.2,"j":17.3,"k":7.5,"l":9,"m":4.9,"n":10.7,"o":6.3,"p":9.1},
{"date":"2023-02-13","a":8.5,"b":0.5,"c":0,"d":0,"e":0,"f":0,"g":2.3,"h":26.3,"i":5.1,"j":10.2,"k":10.1,"l":19,"m":7.4,"n":9.4,"o":1.2,"p":0},
{"date":"2023-02-21","a":20,"b":0,"c":0,"d":0,"e":0,"f":0,"g":0,"h":17.8,"i":4.7,"j":8.5,"k":9,"l":28.9,"m":7,"n":4.1,"o":0,"p":0},
{"date":"2023-02-28","a":26.6,"b":0,"c":0,"d":0,"e":0,"f":0,"g":0,"h":12.4,"i":5.2,"j":8.8,"k":7,"l":33.3,"m":3.9,"n":2.8,"o":0,"p":0},
{"date":"2023-03-10","a":26.4,"b":0,"c":0,"d":0,"e":0,"f":0,"g":0,"h":12.9,"i":4.7,"j":3.4,"k":12.6,"l":32.4,"m":1.4,"n":6.2,"o":0,"p":0},
{"date":"2023-03-13","a":30.3,"b":0,"c":1,"d":0,"e":0,"f":0,"g":0,"h":12.1,"i":6.6,"j":5.8,"k":12.6,"l":3.6,"m":18.5,"n":5.2,"o":4.3,"p":0},
{"date":"2023-03-17","a":30.7,"b":0,"c":14.7,"d":0,"e":0,"f":0,"g":0,"h":12.3,"i":4.1,"j":4.4,"k":13.2,"l":12.6,"m":6.3,"n":1.7,"o":0,"p":0},
{"date":"2023-03-24","a":11.3,"b":0.7,"c":20,"d":0,"e":0,"f":1,"g":0,"h":10,"i":5,"j":12,"k":12.8,"l":15,"m":4.2,"n":3,"o":2,"p":3},
{"date":"2023-03-30","a":5.2,"b":1.2,"c":18.6,"d":0,"e":0,"f":5,"g":0,"h":10.3,"i":0,"j":15.2,"k":12.9,"l":15.8,"m":3.8,"n":7.1,"o":0,"p":4.9},
{"date":"2023-04-04","a":8.5,"b":1.6,"c":18.4,"d":0,"e":0,"f":2,"g":0,"h":13.1,"i":9.4,"j":10.4,"k":12.9,"l":8.1,"m":5.6,"n":5.1,"o":0,"p":4.9},
{"date":"2023-04-10","a":5.2,"b":1.2,"c":19,"d":0,"e":0,"f":1.6,"g":0,"h":7.8,"i":0,"j":15.2,"k":14.7,"l":12,"m":10.7,"n":5.3,"o":2.5,"p":4.8},
{"date":"2023-04-17","a":3.6,"b":1.2,"c":17.2,"d":0,"e":0,"f":1.8,"g":0,"h":7.3,"i":0,"j":16.9,"k":13,"l":9.8,"m":16.6,"n":9.9,"o":0,"p":2.7},
{"date":"2023-04-24","a":6.4,"b":2.3,"c":17.9,"d":0,"e":0,"f":1.9,"g":0,"h":5.3,"i":0,"j":13.2,"k":14.4,"l":15.8,"m":13.3,"n":7.5,"o":0,"p":2},
{"date":"2023-05-04","a":6,"b":3.9,"c":18.3,"d":0,"e":0,"f":2.8,"g":0,"h":5.4,"i":0,"j":12.6,"k":14.4,"l":21.4,"m":4.2,"n":8.9,"o":0,"p":2.1},
{"date":"2023-05-12","a":7.6,"b":2.3,"c":14.7,"d":0,"e":0,"f":2.4,"g":0,"h":6,"i":0,"j":15,"k":12,"l":21,"m":7.7,"n":8.3,"o":3,"p":0},
{"date":"2023-05-18","a":23,"b":12.2,"c":4.8,"d":0,"e":0,"f":0,"g":0,"h":0,"i":0,"j":9,"k":16.6,"l":18.3,"m":1.8,"n":6.3,"o":5.9,"p":2.1},
{"date":"2023-05-24","a":34.8,"b":17.2,"c":6,"d":0,"e":0,"f":0,"g":0,"h":0,"i":0,"j":4.5,"k":9.9,"l":13.3,"m":5.2,"n":1.1,"o":8,"p":0},
{"date":"2023-05-31","a":35.2,"b":18.8,"c":5.2,"d":0,"e":0,"f":0,"g":0,"h":0,"i":0,"j":4.4,"k":15.4,"l":7.1,"m":6.6,"n":1.9,"o":5.4,"p":0},
{"date":"2023-06-06","a":32.7,"b":21.5,"c":4.3,"d":0,"e":0,"f":0,"g":0,"h":0,"i":0,"j":4.5,"k":15,"l":0.2,"m":16.4,"n":2.9,"o":2.5,"p":0},
{"date":"2023-06-13","a":28,"b":12,"c":6,"d":0,"e":2,"f":0,"g":0,"h":0,"i":0,"j":6.4,"k":16.2,"l":0.2,"m":21.2,"n":1.1,"o":0,"p":6.9},
{"date":"2023-06-17","a":32.5,"b":3.5,"c":5,"d":0,"e":2.6,"f":0,"g":0,"h":0,"i":0,"j":9.4,"k":16.5,"l":0.2,"m":17.7,"n":5.6,"o":0,"p":7},
{"date":"2023-06-27","a":21,"b":13.8,"c":0.8,"d":0,"e":16.4,"f":0,"g":0,"h":14.9,"i":0,"j":1.5,"k":13.4,"l":0.1,"m":15.3,"n":0.3,"o":0,"p":2.5},
{"date":"2023-07-04","a":14.4,"b":17.6,"c":4.4,"d":0,"e":9.8,"f":0,"g":0,"h":16.3,"i":0,"j":1.4,"k":11.9,"l":0.1,"m":22.4,"n":0.5,"o":0,"p":1.2},
{"date":"2023-07-11","a":20.7,"b":19.2,"c":1,"d":0,"e":9.6,"f":0,"g":0,"h":14.5,"i":0,"j":1.7,"k":13.5,"l":0.1,"m":18.9,"n":0.3,"o":0.8,"p":0},
{"date":"2023-07-23","a":20.5,"b":18.2,"c":1.3,"d":0,"e":3.8,"f":0,"g":0,"h":14.6,"i":0,"j":1.5,"k":14,"l":0.1,"m":22.2,"n":1.5,"o":2.3,"p":0},
{"date":"2023-08-03","a":20.5,"b":15.5,"c":2.4,"d":0,"e":5.1,"f":0,"g":0,"h":13,"i":0,"j":1.2,"k":13.6,"l":3.3,"m":21.6,"n":1.5,"o":2.3,"p":0},
{"date":"2023-08-07","a":20.5,"b":14.5,"c":3.4,"d":0,"e":5.6,"f":0,"g":0,"h":12,"i":0,"j":1.5,"k":13.5,"l":3.5,"m":15.5,"n":1.6,"o":2.3,"p":6.1},
{"date":"2023-08-13","a":21,"b":14,"c":11.2,"d":0,"e":0,"f":0,"g":0,"h":13.3,"i":0,"j":1,"k":9,"l":5.5,"m":19.2,"n":5.8,"o":0,"p":0},
{"date":"2023-08-18","a":34.4,"b":14.1,"c":1.5,"d":0,"e":2,"f":0,"g":0,"h":16,"i":0,"j":1,"k":16.7,"l":0.3,"m":8.5,"n":3.5,"o":2,"p":0},
{"date":"2023-08-26","a":19.1,"b":32.9,"c":7.5,"d":0,"e":5.5,"f":0,"g":0,"h":12.3,"i":0,"j":1.7,"k":13.9,"l":0.4,"m":0.7,"n":6,"o":0,"p":0},
{"date":"2023-08-31","a":13.8,"b":34.2,"c":2,"d":0,"e":4,"f":0,"g":0,"h":8,"i":0,"j":4,"k":14,"l":6.6,"m":2.8,"n":6.6,"o":4,"p":0},
{"date":"2023-09-08","a":9.9,"b":37.9,"c":0.7,"d":0,"e":1.8,"f":0,"g":0,"h":1.1,"i":0,"j":1.5,"k":13.6,"l":5.2,"m":11.8,"n":10.7,"o":3.8,"p":2},
{"date":"2023-09-15","a":8.9,"b":31.4,"c":4.3,"d":0,"e":0,"f":0,"g":0,"h":0,"i":0,"j":1.4,"k":16.8,"l":6.7,"m":13.3,"n":10.3,"o":4.4,"p":2.5},
{"date":"2023-09-21","a":14,"b":33,"c":5.9,"d":0,"e":3.1,"f":0,"g":0,"h":0,"i":2,"j":5.8,"k":10.8,"l":3,"m":10,"n":8.4,"o":2.4,"p":1.6},
{"date":"2023-09-28","a":23.5,"b":31.2,"c":1.9,"d":0,"e":1.9,"f":0,"g":0,"h":1.4,"i":7.4,"j":1.7,"k":13.8,"l":0.4,"m":4.8,"n":8.2,"o":1.8,"p":2},
{"date":"2023-10-02","a":21,"b":33.7,"c":2.6,"d":0,"e":4.5,"f":0,"g":0,"h":1.1,"i":1.8,"j":1.8,"k":13.7,"l":3.8,"m":5,"n":6,"o":3,"p":2},
{"date":"2023-10-06","a":26.6,"b":30.7,"c":7.4,"d":0,"e":0.3,"f":0,"g":0,"h":0.5,"i":3.6,"j":1.9,"k":14.4,"l":3.3,"m":5.5,"n":2,"o":2.3,"p":1.5},
{"date":"2023-10-10","a":25,"b":27,"c":6,"d":0,"e":0,"f":0,"g":0,"h":0,"i":2,"j":3,"k":16.5,"l":0.5,"m":8.7,"n":5.5,"o":4.3,"p":1.5},
{"date":"2023-10-17","a":15,"b":29.6,"c":8.3,"d":0,"e":0,"f":0,"g":0,"h":0,"i":0.1,"j":1.4,"k":15.8,"l":5.8,"m":12,"n":4.7,"o":5.8,"p":1.5},
{"date":"2023-10-24","a":28,"b":27.8,"c":7.7,"d":0,"e":0,"f":0,"g":0,"h":0,"i":0.2,"j":2.3,"k":17.9,"l":2.6,"m":6.6,"n":0.9,"o":4.5,"p":1.5},
{"date":"2023-10-29","a":21.5,"b":34.9,"c":6.6,"d":0,"e":0,"f":0,"g":0,"h":0,"i":0,"j":6.9,"k":14,"l":5.5,"m":3.7,"n":0.9,"o":4.5,"p":1.5},
{"date":"2023-11-05","a":13,"b":39.9,"c":0.1,"d":0,"e":0,"f":0,"g":0,"h":0,"i":0,"j":6.9,"k":13.5,"l":0.2,"m":9,"n":7.2,"o":8.7,"p":1.5},
{"date":"2023-11-12","a":11.5,"b":45.8,"c":0.7,"d":0,"e":0,"f":0,"g":0,"h":0,"i":0,"j":9.6,"k":13.9,"l":0.5,"m":7.4,"n":4.6,"o":4.5,"p":1.5},
{"date":"2023-11-19","a":11.5,"b":27.5,"c":9.5,"d":0,"e":0,"f":0,"g":0,"h":0,"i":0,"j":7,"k":14.7,"l":0.2,"m":15,"n":8.6,"o":4.5,"p":1.5},
{"date":"2023-11-23","a":11.5,"b":27.5,"c":1,"d":0,"e":0,"f":0,"g":0,"h":0,"i":0,"j":11,"k":12,"l":0.2,"m":21.8,"n":9,"o":4.5,"p":1.5}
]},
"transform":[
{"fold":["a","b","c","d","e","f","g","h","i","j","k","l","m","n","o","p"],"as":["key","share"]}
],
"mark":{"type":"area","interpolate":"linear"},
"encoding":{
"x":{"field":"date","type":"temporal","title":null,"scale":{"type":"utc","domain":["2020-06-30","2023-11-22"]},
"axis":{"values":["2020-06-30","2020-12-31","2021-06-30","2021-12-31","2022-06-30","2022-12-31","2023-06-30"],"labelExpr":"utcFormat(datum.value,'%d.%m.%y')","labelFont":"Lato","labelFontSize":20,"labelColor":"#595959","labelPadding":11,"labelOverlap":false,"labelFlush":false,"tickColor":"#D9D9D9","tickSize":7,"domainColor":"#D9D9D9","domainWidth":1.5,"grid":false}},
"y":{"field":"share","type":"quantitative","stack":"normalize","title":null,"scale":{"domain":[0,1]},
"axis":{"format":".0%","values":[0,0.1,0.2,0.3,0.4,0.5,0.6,0.7,0.8,0.9,1],"labelFont":"Lato","labelFontSize":20,"labelColor":"#595959","labelPadding":19,"domain":false,"ticks":false,"grid":false}},
"order":{"field":"key","type":"nominal","sort":"ascending"},
"color":{"field":"key","type":"nominal","title":null,
"scale":{"domain":["a","b","c","d","e","f","g","h","i","j","k","l","m","n","o","p"],
"range":["#FFFFCC","#4F6228","#77933C","#92D050","#D8E4BC","#E6B9B8","#C0504D","#772C2A","#C00000","#E36C09","#FAC090","#17375E","#376092","#4F81BD","#558ED5","#B9CDE5"]},
"legend":{"orient":"none","legendX":15,"legendY":974,"direction":"horizontal","columns":8,"gridAlign":"all","columnPadding":9,"rowPadding":10,"symbolType":"square","symbolSize":95,"symbolStrokeWidth":0,"symbolOpacity":1,"labelFont":"Lato","labelFontSize":17,"labelColor":"#595959","labelLimit":300,"labelOffset":-1,
"labelExpr":"{'a':'Geldmarkt EONIA','b':'Staatsanleihen EUR','c':'Staatsanleihen US$','d':'Staatsanleihen Global','e':'Staatsanleihen EM','f':'Unternehmensanl. EUR','g':'Unternehmensanl. US$','h':'Unternehmensanl. EM','i':'High Yield EUR','j':'Pfandbriefe','k':'Floater US$','l':'Aktien Europa','m':'Aktien Nordamerika','n':'Aktien Japan','o':'Aktien Australien','p':'Aktien EM'}[datum.value]"}}
}}
